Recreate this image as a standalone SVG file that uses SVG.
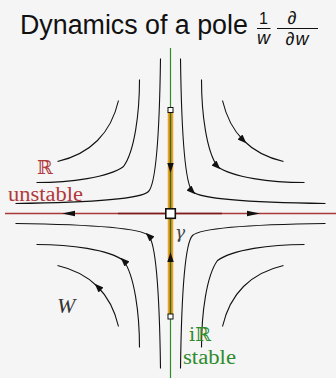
<svg xmlns="http://www.w3.org/2000/svg" xmlns:xlink="http://www.w3.org/1999/xlink" width="336" height="378" viewBox="0 0 336 378">
<style>
.flow{fill:none;stroke:#111;stroke-width:1.1}
.arrowed{marker-mid:url(#ah)}
.ser{font-family:"Liberation Serif","DejaVu Serif",serif}
.bb{font-family:"DejaVu Serif","Liberation Serif",serif}
.sans{font-family:"Liberation Sans","DejaVu Sans",sans-serif}
.red{fill:#b03a3a}
.grn{fill:#2e8b2e}
.box{fill:#fff;stroke:#111}
.tri{fill:#111}
</style>
<defs>
<marker id="ah" markerUnits="userSpaceOnUse" markerWidth="9" markerHeight="7" refX="5" refY="3.5" orient="auto" viewBox="0 0 9 7">
<path d="M0,0 L9,3.5 L0,7 z" fill="#111"/>
</marker>
<g id="q">
<path d="M10,-155 C11,-80 14,-30 22,-22 C30,-14 80,-11 155,-10"/>
<path d="M31,-134 C31,-100 36,-62 47,-47 C62,-36 100,-31 134,-31"/>
<path d="M52,-113 C55,-100 62,-84 73,-73 C84,-62 100,-55 113,-52"/>
</g>
</defs>
<rect width="336" height="378" fill="#f5f5f5"/>
<g id="connectors">
<g transform="translate(170.5,213.5)">
<use xlink:href="#q" class="flow arrowed"/>
<use xlink:href="#q" class="flow arrowed" transform="scale(-1,-1)"/>
<use xlink:href="#q" class="flow" transform="scale(-1,1)"/>
<use xlink:href="#q" class="flow" transform="scale(1,-1)"/>
</g>
<line x1="5" y1="213.5" x2="336" y2="213.5" stroke="#a83a3a" stroke-width="1.3"/>
<line x1="118" y1="213.5" x2="222" y2="213.5" stroke="#7a1c1c" stroke-width="1.3"/>
<line x1="170.5" y1="110" x2="170.5" y2="316" stroke="#f0a020" stroke-width="5.5"/>
<line x1="170.5" y1="48" x2="170.5" y2="378" stroke="#2e8b2e" stroke-width="1.2"/>
<line x1="170.5" y1="110" x2="170.5" y2="316" stroke="#3b6a12" stroke-width="1.4"/>
<path class="tri" d="M62,213.5 L75,210.8 L75,216.2 z"/>
<path class="tri" d="M260,213.5 L247,210.8 L247,216.2 z"/>
<path class="tri" d="M170.5,173 L167.3,163 L173.7,163 z"/>
<path class="tri" d="M170.5,252 L167.3,262 L173.7,262 z"/>
</g>
<g id="gamma-top"><rect class="box" x="168" y="107.5" width="5" height="5" stroke-width="1"/></g>
<g id="gamma-bottom"><rect class="box" x="168" y="314" width="5" height="5" stroke-width="1"/></g>
<g id="pole"><rect class="box" x="165.8" y="208.8" width="9.5" height="9.5" stroke-width="1.6"/></g>
<g id="title" class="sans" fill="#111">
<text x="20" y="34" font-size="26.8">Dynamics of a pole</text>
<text x="263.5" y="24" font-size="16" text-anchor="middle">1</text>
<line x1="257" y1="28.5" x2="270.5" y2="28.5" stroke="#111" stroke-width="1"/>
<text x="263.5" y="44" font-size="18" font-style="italic" text-anchor="middle">w</text>
<text x="292" y="24" font-size="18" font-style="italic" text-anchor="middle">∂</text>
<line x1="277" y1="28.5" x2="318" y2="28.5" stroke="#111" stroke-width="1"/>
<text x="297.5" y="45" font-size="18" font-style="italic" text-anchor="middle" letter-spacing="1">∂w</text>
</g>
<g id="label-R">
<text class="bb red" x="45" y="174" font-size="19" text-anchor="middle">ℝ</text>
<text class="ser red" x="8" y="201" font-size="20" textLength="75" lengthAdjust="spacingAndGlyphs">unstable</text>
</g>
<g id="label-iR">
<text class="bb grn" x="200" y="341" font-size="19" text-anchor="middle">iℝ</text>
<text class="ser grn" x="183" y="364" font-size="20" textLength="53" lengthAdjust="spacingAndGlyphs">stable</text>
</g>
<g id="label-gamma"><text class="bb" x="175" y="238" font-size="17" font-style="italic" fill="#444">γ</text></g>
<g id="label-W"><text class="ser" x="57" y="313" font-size="22" font-style="italic" fill="#333">W</text></g>
</svg>
